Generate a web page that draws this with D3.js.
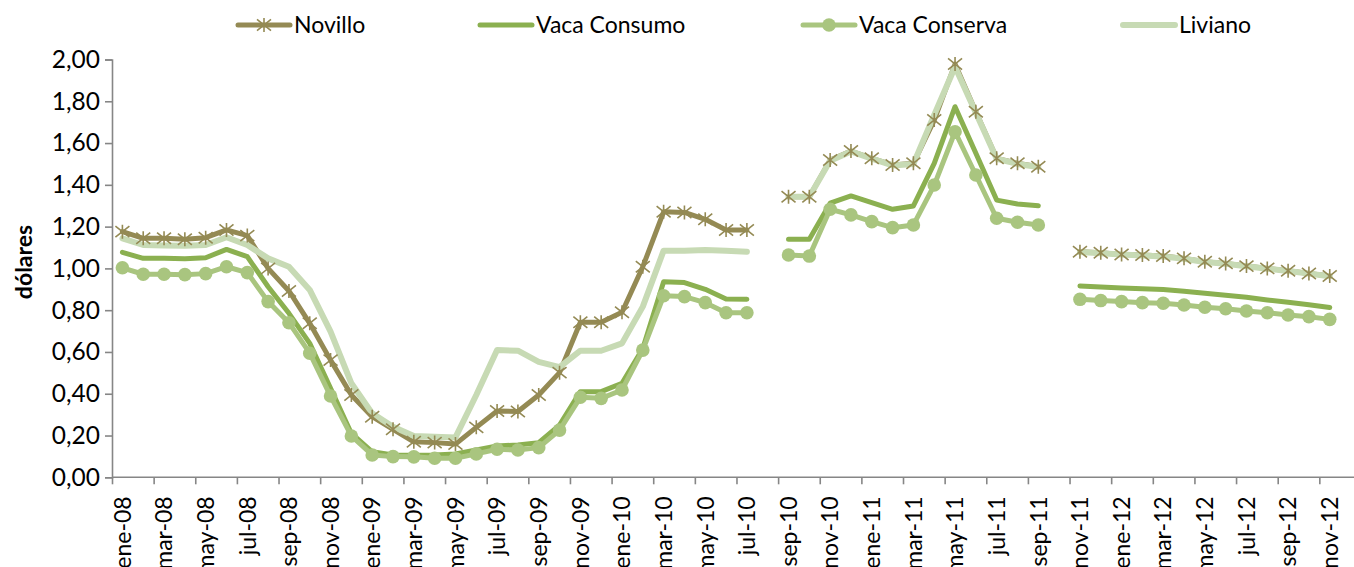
<!DOCTYPE html>
<html>
<head>
<meta charset="utf-8">
<script src="https://cdn.jsdelivr.net/npm/d3@7"></script>
<style>
  html, body { margin: 0; padding: 0; background: #fff; }
  svg { display: block; font-family: Lato, "Open Sans", sans-serif; }
</style>
</head>
<body>
<svg id="chart" width="1354" height="567"></svg>
<script>
// ---------- data ----------
const months = [
  "ene-08","feb-08","mar-08","abr-08","may-08","jun-08","jul-08","ago-08","sep-08","oct-08","nov-08","dic-08",
  "ene-09","feb-09","mar-09","abr-09","may-09","jun-09","jul-09","ago-09","sep-09","oct-09","nov-09","dic-09",
  "ene-10","feb-10","mar-10","abr-10","may-10","jun-10","jul-10","ago-10","sep-10","oct-10","nov-10","dic-10",
  "ene-11","feb-11","mar-11","abr-11","may-11","jun-11","jul-11","ago-11","sep-11","oct-11","nov-11","dic-11",
  "ene-12","feb-12","mar-12","abr-12","may-12","jun-12","jul-12","ago-12","sep-12","oct-12","nov-12"
];
const seriesNames = ["Novillo", "Vaca Consumo", "Vaca Conserva", "Liviano"];

const novillo = [
  1.176,1.144,1.144,1.140,1.147,1.184,1.157,1.000,0.892,0.737,0.561,0.394,0.290,0.230,0.170,
  0.166,0.159,0.239,0.317,0.315,0.394,0.501,0.742,0.742,0.790,1.008,1.271,1.268,1.235,1.184,1.184,
  null,
  1.343,1.343,1.519,1.562,1.527,1.495,1.503,1.710,1.978,1.750,1.527,1.503,1.487,
  null,
  1.080,1.075,1.067,1.064,1.059,1.048,1.032,1.024,1.011,1.000,0.989,0.976,0.964
];
const vacaConsumo = [
  1.077,1.048,1.048,1.046,1.051,1.091,1.056,0.912,0.785,0.641,0.426,0.210,0.122,0.107,0.106,
  0.107,0.112,0.131,0.150,0.155,0.166,0.250,0.410,0.410,0.450,0.617,0.936,0.932,0.900,0.853,0.852,
  null,
  1.139,1.139,1.312,1.347,1.315,1.283,1.299,1.503,1.774,1.551,1.327,1.308,1.300,
  null,
  0.916,0.911,0.906,0.902,0.899,0.891,0.881,0.871,0.862,0.849,0.838,0.826,0.813
];
const vacaConserva = [
  1.003,0.972,0.972,0.970,0.975,1.008,0.980,0.841,0.740,0.594,0.389,0.198,0.107,0.099,0.098,
  0.091,0.091,0.112,0.134,0.131,0.142,0.226,0.383,0.378,0.418,0.609,0.869,0.865,0.836,0.788,0.788,
  null,
  1.064,1.059,1.283,1.256,1.224,1.195,1.208,1.399,1.654,1.447,1.240,1.221,1.208,
  null,
  0.852,0.846,0.841,0.836,0.833,0.825,0.814,0.807,0.796,0.788,0.777,0.769,0.756
];
const liviano = [
  1.144,1.112,1.110,1.108,1.112,1.149,1.112,1.048,1.008,0.897,0.697,0.450,0.306,0.242,0.198,
  0.194,0.191,0.394,0.609,0.606,0.553,0.527,0.606,0.606,0.641,0.817,1.085,1.085,1.088,1.085,1.080,
  null,
  1.343,1.343,1.515,1.560,1.525,1.493,1.500,1.735,1.965,1.745,1.525,1.500,1.485,
  null,
  1.078,1.073,1.066,1.062,1.057,1.046,1.031,1.022,1.010,0.998,0.988,0.975,0.962
];
const yTicks = [0,0.2,0.4,0.6,0.8,1.0,1.2,1.4,1.6,1.8,2.0];
const yTitle = "dólares";

// ---------- layout ----------
const W = 1354, H = 567;
const plotLeft = 112, monthW = 20.816;
const plotRight = plotLeft + months.length * monthW;
const yBottom = 477.3, yTop = 59.5;

const colors = {
  "Novillo": "#948A54",
  "Vaca Consumo": "#8BB050",
  "Vaca Conserva": "#A9C57F",
  "Liviano": "#C7DAB4"
};
const starColor = "#948A54";

const svg = d3.select("#chart");

const x = d3.scaleBand().domain(months).range([plotLeft, plotRight]).paddingInner(0).paddingOuter(0);
const xc = m => x(m) + x.bandwidth() / 2;
const xb = d3.scaleLinear().domain([0, months.length]).range([plotLeft, plotRight]);
const y = d3.scaleLinear().domain([0, 2]).range([yBottom, yTop]);

const axisColor = "#868686";

// y axis
const yAxis = d3.axisLeft(y).tickValues(yTicks).tickSize(7).tickPadding(5)
  .tickFormat(d => d3.format(".2f")(d).replace(".", ","));
const gy = svg.append("g").attr("transform", `translate(${plotLeft},0)`).call(yAxis);
gy.select(".domain").attr("stroke", axisColor).attr("stroke-width", 1.6);
gy.selectAll(".tick line").attr("stroke", axisColor).attr("stroke-width", 1.6);
gy.selectAll(".tick text").attr("font-size", 24.5).attr("fill", "#000")
  .attr("font-family", "Lato, sans-serif");

// x axis: tick marks at boundaries every 2 months
const tickIdx = d3.range(0, months.length, 2);
const xTickAxis = d3.axisBottom(xb).tickValues(tickIdx).tickSize(7).tickFormat("");
const gxt = svg.append("g").attr("transform", `translate(0,${yBottom})`).call(xTickAxis);
gxt.select(".domain").remove();
gxt.selectAll(".tick line").attr("stroke", axisColor).attr("stroke-width", 1.6);
svg.append("line").attr("x1", plotLeft).attr("x2", W).attr("y1", yBottom).attr("y2", yBottom)
  .attr("stroke", axisColor).attr("stroke-width", 1.6);

// x labels at category centers
const xLabAxis = d3.axisBottom(x).tickValues(months.filter((m, i) => i % 2 === 0)).tickSize(0);
const gxl = svg.append("g").attr("transform", `translate(0,${yBottom})`).call(xLabAxis);
gxl.select(".domain").remove();
gxl.selectAll(".tick text")
  .attr("font-size", 23).attr("fill", "#000").attr("font-family", "Lato, sans-serif")
  .attr("text-anchor", "end")
  .attr("transform", "rotate(-90)")
  .attr("x", -19).attr("y", 0).attr("dy", "0.36em");

// y title
svg.append("text").attr("transform", "translate(32,262) rotate(-90)")
  .attr("text-anchor", "middle").attr("font-weight", "bold").attr("font-size", 23)
  .attr("font-family", "Lato, sans-serif").text(yTitle);

// ---------- series ----------
const seriesData = [
  { name: "Novillo", values: novillo, width: 5, marker: "star" },
  { name: "Vaca Consumo", values: vacaConsumo, width: 5, marker: null },
  { name: "Vaca Conserva", values: vacaConserva, width: 5, marker: "circle" },
  { name: "Liviano", values: liviano, width: 6, marker: null }
];

const line = d3.line()
  .defined(d => d.v != null)
  .x(d => xc(d.m))
  .y(d => y(d.v));

const linesG = svg.append("g");
seriesData.forEach(s => {
  const pts = s.values.map((v, i) => ({ m: months[i], v }));
  linesG.append("path").datum(pts)
    .attr("fill", "none").attr("stroke", colors[s.name]).attr("stroke-width", s.width)
    .attr("stroke-linejoin", "round").attr("stroke-linecap", "round")
    .attr("d", line);
});

function starPath(cx, cy, r) {
  return `M${cx - r},${cy - r * 0.8}L${cx + r},${cy + r * 0.8}` +
         `M${cx - r},${cy + r * 0.8}L${cx + r},${cy - r * 0.8}` +
         `M${cx},${cy - r}L${cx},${cy + r}`;
}

const markG = svg.append("g");
seriesData.forEach(s => {
  const pts = s.values.map((v, i) => ({ m: months[i], v })).filter(d => d.v != null);
  if (s.marker === "circle") {
    markG.selectAll(null).data(pts).enter().append("circle")
      .attr("cx", d => xc(d.m)).attr("cy", d => y(d.v)).attr("r", 6.8)
      .attr("fill", colors[s.name]);
  } else if (s.marker === "star") {
    markG.selectAll(null).data(pts).enter().append("path")
      .attr("d", d => starPath(xc(d.m), y(d.v), 7))
      .attr("stroke", starColor).attr("stroke-width", 1.6).attr("fill", "none");
  }
});

// ---------- legend ----------
const legendX = [238, 480, 803, 1123];
const legendY = 25;
const lg = svg.append("g");
seriesData.forEach((s, i) => {
  const x0 = legendX[i];
  lg.append("line").attr("x1", x0).attr("x2", x0 + 52).attr("y1", legendY).attr("y2", legendY)
    .attr("stroke", colors[s.name]).attr("stroke-width", s.width).attr("stroke-linecap", "round");
  if (s.marker === "circle") {
    lg.append("circle").attr("cx", x0 + 26).attr("cy", legendY).attr("r", 6.8).attr("fill", colors[s.name]);
  } else if (s.marker === "star") {
    lg.append("path").attr("d", starPath(x0 + 26, legendY, 7))
      .attr("stroke", starColor).attr("stroke-width", 1.6).attr("fill", "none");
  }
  lg.append("text").attr("x", x0 + 56).attr("y", legendY).attr("dy", "0.35em")
    .attr("font-size", 23).attr("font-family", "Lato, sans-serif").attr("fill", "#000")
    .text(s.name);
});
</script>
</body>
</html>
